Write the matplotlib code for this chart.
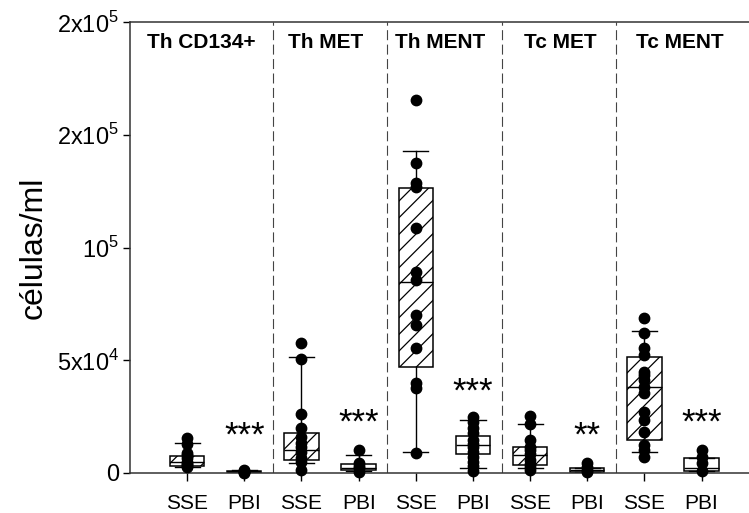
import matplotlib.pyplot as plt
import numpy as np

plt.rcParams['font.family'] = 'Liberation Sans'
plt.rcParams['mathtext.fontset'] = 'custom'
plt.rcParams['mathtext.rm'] = 'Liberation Sans'
plt.rcParams['hatch.linewidth'] = 0.9

groups = ['Th CD134+', 'Th MET', 'Th MENT', 'Tc MET', 'Tc MENT']
group_x = [1.25, 3.42, 5.43, 7.53, 9.62]
labels = ['SSE', 'PBI'] * 5

# box stats (cells/ml)
whislo = [2800, 300, 4600, 800, 9200, 2100, 2100, 400, 9200, 900]
q1 = [3100, 300, 5800, 1300, 47100, 8400, 3500, 400, 14600, 900]
med = [5000, 600, 10200, 2300, 84800, 12400, 8000, 1300, 38300, 2100]
q3 = [7700, 900, 17600, 3800, 126300, 16500, 11700, 2200, 51600, 6800]
whishi = [13400, 1300, 51600, 8000, 142800, 23500, 21700, 2200, 63000, 6800]

points = [
    [15400, 13000, 9000, 8000, 6500, 5000, 4200, 3500, 2800],
    [1300, 900, 600, 400, 200],
    [57500, 50500, 26200, 20100, 16100, 13200, 11500, 9400, 6500, 4800, 1300],
    [10200, 4300, 3000, 2000, 600],
    [165400, 137600, 128700, 127000, 108500, 89300, 85600, 70100, 65600,
     55300, 39800, 37600, 8700],
    [25000, 22700, 20000, 17600, 14600, 13000, 11700, 9400, 7000, 5000, 3000, 1000],
    [25300, 21700, 14600, 11700, 10000, 8500, 5800, 4000, 2800, 1300],
    [4300, 2800, 1300, 400],
    [68600, 62200, 55300, 52300, 45000, 43500, 41200, 38300, 35300, 27200,
     23500, 18300, 12400, 10200, 7200],
    [10200, 7200, 4300, 900],
]

stars = ['***', '***', '***', '**', '***']
star_y = [16500, 22000, 36000, 16500, 22000]

fig = plt.figure(figsize=(7.49, 5.13), dpi=100)
ax = fig.add_axes([0.1736, 0.078, 0.8264, 0.879])

pos = np.arange(1, 11)
stats = []
for i in range(10):
    stats.append({'whislo': whislo[i], 'q1': q1[i], 'med': med[i], 'q3': q3[i],
                  'whishi': whishi[i], 'fliers': []})

bp = ax.bxp(stats, positions=pos, widths=0.6, capwidths=0.44, patch_artist=True,
            showfliers=False,
            boxprops=dict(facecolor='white', edgecolor='black', linewidth=1.1),
            medianprops=dict(color='black', linewidth=1.0),
            whiskerprops=dict(color='black', linewidth=1.0),
            capprops=dict(color='black', linewidth=1.0))
for i, b in enumerate(bp['boxes']):
    if i % 2 == 0:
        b.set_hatch('//')

for i in range(10):
    ax.scatter([pos[i]] * len(points[i]), points[i], s=56, color='black',
               zorder=5, clip_on=False)

for x in [2.5, 4.5, 6.5, 8.5]:
    ax.axvline(x, color='#444444', linewidth=0.8, linestyle=(0, (9, 4)))

for i in range(5):
    ax.text(group_x[i], 191000, groups[i], ha='center', va='center',
            fontsize=15, fontweight='bold')
    ax.text(pos[2 * i + 1], star_y[i], stars[i], ha='center', va='center',
            fontsize=25)

ax.set_xlim(0, 10.83)
ax.set_ylim(0, 200000)
ax.set_xticks(pos)
ax.set_xticklabels(labels, fontsize=15)
ax.set_yticks([0, 50000, 100000, 150000, 200000])
ax.set_yticklabels(['0', '5x10$^4$', '10$^5$', '2x10$^5$', '2x10$^5$'], fontsize=17)
ax.tick_params(axis='x', length=6, width=1.0, pad=9)
ax.tick_params(axis='y', length=5, width=1.0, pad=3)
ax.set_ylabel('células/ml', fontsize=23, labelpad=6)

ax.spines['right'].set_visible(False)
for s in ['left', 'bottom', 'top']:
    ax.spines[s].set_linewidth(1.1)
    ax.spines[s].set_color('#333333')

fig.savefig('out.png', dpi=100)
